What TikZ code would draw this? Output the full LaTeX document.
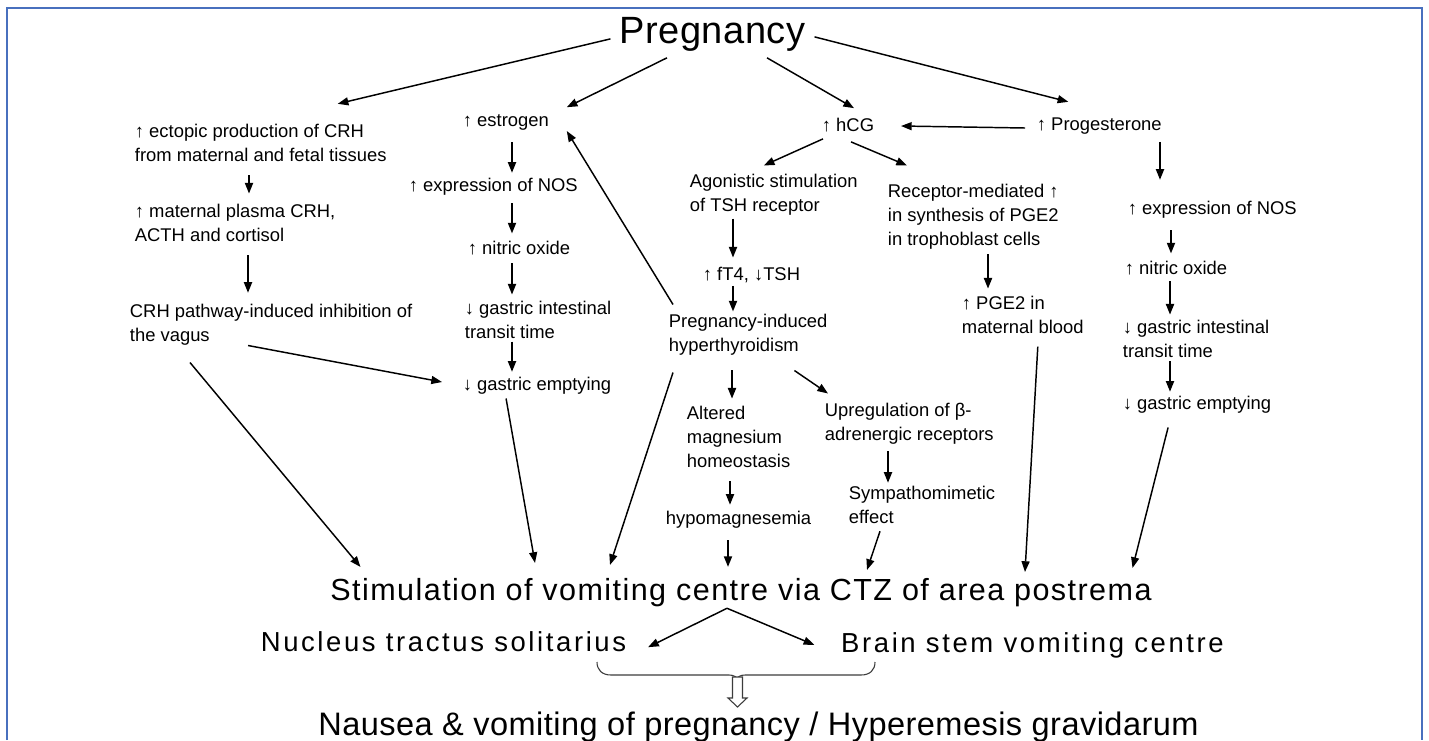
\documentclass[tikz,border=0pt]{standalone}
\usepackage{fontspec}
\setmainfont{Liberation Sans}
\usetikzlibrary{arrows.meta, calc}
\definecolor{framebl}{RGB}{72,112,190}
\definecolor{bracegr}{RGB}{60,60,60}

\begin{document}
\begin{tikzpicture}[x=0.75pt, y=-0.75pt,
  txt/.style={anchor=west, align=left, inner sep=2pt,
    font={\fontsize{13.8}{18}\selectfont}},
  title/.style={anchor=base, inner sep=2pt,
    font={\fontsize{28.5}{33}\selectfont\addfontfeature{LetterSpace=1.5}}},
  centre/.style={anchor=base, inner sep=2pt,
    font={\fontsize{22.9}{27}\selectfont\addfontfeature{LetterSpace=4.7}}},
  site/.style={anchor=base, inner sep=2pt,
    font={\fontsize{20.6}{25}\selectfont\addfontfeature{LetterSpace=9.5}}},
  outcome/.style={anchor=base, inner sep=2pt,
    font={\fontsize{24.4}{29}\selectfont\addfontfeature{LetterSpace=1.4}}},
  arr/.style={-{Triangle[length=8pt, width=6pt]}, line width=1.1pt},
  vert/.style={arr, line width=1.4pt},
  frame/.style={draw=framebl, line width=1.2pt},
  brace/.style={draw=bracegr, line width=0.8pt},
  hollow/.style={draw=bracegr, fill=white, line width=0.8pt}]
  \useasboundingbox (0,0) rectangle (1429,740);
  \fill[white] (0,0) rectangle (1429,740);
  % Frame
  \draw[frame] (7,740) -- (7,8) -- (1422,8) -- (1422,740);

  % Top
  \node[title] (preg) at (712.5,43) {Pregnancy};

  % CRH column
  \node[txt] (ectopic) at (132,142.5) {↑ ectopic production of CRH\\from maternal and fetal tissues};
  \node[txt] (plasma) at (132,223) {↑ maternal plasma CRH,\\ACTH and cortisol};
  \node[txt] (crhpath) at (127,325) {CRH pathway-induced inhibition of\\the vagus};

  % Estrogen column
  \node[txt] (estrogen) at (460,122) {↑ estrogen};
  \node[txt] (nosL) at (406,187) {↑ expression of NOS};
  \node[txt] (noL) at (465,248) {↑ nitric oxide};
  \node[txt] (gitL) at (462,320) {↓ gastric intestinal\\transit time};
  \node[txt] (geL) at (460,386) {↓ gastric emptying};

  % hCG column
  \node[txt] (hcg) at (819,125) {↑ hCG};
  \node[txt] (agon) at (687,195) {Agonistic stimulation\\of TSH receptor};
  \node[txt] (ft4) at (700,275) {↑ fT4, ↓TSH};
  \node[txt] (hyper) at (666,335) {Pregnancy-induced\\hyperthyroidism};
  \node[txt] (altered) at (684,437) {Altered\\magnesium\\homeostasis};
  \node[txt] (hypomag) at (663,520) {hypomagnesemia};
  \node[txt] (upreg) at (822,424) {Upregulation of β-\\adrenergic receptors};
  \node[txt] (symp) at (846,504.5) {Sympathomimetic\\effect};
  \node[txt] (recep) at (885,217) {Receptor-mediated ↑\\in synthesis of PGE2\\in trophoblast cells};
  \node[txt] (pge2) at (959,315) {↑ PGE2 in\\maternal blood};

  % Progesterone column
  \node[txt] (prog) at (1034,126) {↑ Progesterone};
  \node[txt] (nosR) at (1125,210) {↑ expression of NOS};
  \node[txt] (noR) at (1122,268) {↑ nitric oxide};
  \node[txt] (gitR) at (1120,339) {↓ gastric intestinal\\transit time};
  \node[txt] (geR) at (1120,405) {↓ gastric emptying};

  % Bottom
  \node[centre] (stim) at (741,600) {Stimulation of vomiting centre via CTZ of area postrema};
  \node[site] (nucleus) at (443.5,651) {Nucleus tractus solitarius};
  \node[site] (brain) at (1032.5,652) {Brain stem vomiting centre};
  \node[outcome] (nausea) at (758.5,735) {Nausea \& vomiting of pregnancy / Hyperemesis gravidarum};

  % Straight down arrows
  \foreach \a/\b/\x/\s/\e in {ectopic/plasma/249/8.3/5.8, plasma/crhpath/248/8/6.5,
      estrogen/nosL/512/7.2/2, nosL/noL/512/3.5/3.5, noL/gitL/512/4.2/2.8, gitL/geL/512/0/2,
      prog/nosR/1160/3.5/14, nosR/noR/1171/6.5/3.5, noR/gitR/1170/2.7/2, gitR/geR/1170/0.4/1.3,
      agon/ft4/733/0/5, ft4/hyper/733/0/0, hyper/altered/732/8.7/3.5, altered/hypomag/730/8/2.8,
      hypomag/stim/728/6.5/6, upreg/symp/888/2.7/0, recep/pge2/988/1.2/3.5}
    \draw[vert, shorten <=\s pt, shorten >=\e pt] (\x,0 |- \a.south) -- (\x,0 |- \b.north);

  % From Pregnancy
  \draw[arr] ($(preg.west)+(-6,5)$) -- ($(ectopic.north)+(77,-17)$);
  \draw[arr] ($(preg.south)+(-45.5,4)$) -- ($(estrogen.north east)+(15,-4)$);
  \draw[arr] ($(preg.south)+(54.5,4)$) -- ($(hcg.north)+(6,-7)$);
  \draw[arr] ($(preg.east)+(6,3)$) -- ($(prog.north)+(-31,-13)$);
  \draw[arr] ($(prog.west)+(-9,2)$) -- ($(hcg.east)+(24,1)$);

  % hCG branches
  \draw[arr] ($(hcg.south west)+(4,4)$) -- ($(agon.north)+(-10,-6)$);
  \draw[arr] ($(hcg.south)+(3,7)$) -- ($(recep.north west)+(22,-16)$);
  \draw[arr] ($(hyper.north west)+(7,-7)$) -- ($(estrogen.east)+(15,9)$);
  \draw[arr] ($(hyper.south east)+(-36,12)$) -- ($(upreg.north west)+(6,-7)$);
  \draw[arr] ($(crhpath.south)+(-23,-3)$) -- ($(geL.west)+(-18,-4)$);

  % Into the vomiting centre
  \draw[arr] ($(crhpath.south west)+(63,14)$) -- ($(stim.north west)+(33,-8)$);
  \draw[arr] ($(geL.south)+(-31,1)$) -- ($(stim.north)+(-206,-12)$);
  \draw[arr] ($(hyper.south west)+(7,14)$) -- ($(stim.north)+(-131,-10)$);
  \draw[arr] ($(symp.south west)+(34,5)$) -- ($(stim.north)+(126,-5)$);
  \draw[arr] ($(pge2.south)+(15,10)$) -- ($(stim.north)+(284,-3)$);
  \draw[arr] ($(geR.south)+(-29,11)$) -- ($(stim.north east)+(-22,-7)$);

  % Split below
  \draw[arr] ($(stim.south)+(-14,-1)$) -- ($(nucleus.east)+(19,6)$);
  \draw[arr] ($(stim.south)+(-14,-1)$) -- ($(brain.west)+(-24,0)$);

  % Brace and hollow arrow
  \coordinate (braceL) at (597,662);
  \coordinate (braceR) at (875,662);
  \draw[brace] (braceL) .. controls (597,670) and (602,675) .. (611,675) -- (729,675)
    .. controls (734,675) and (737,677) .. (737,680)
    .. controls (737,677) and (740,675) .. (745,675) -- (861,675)
    .. controls (870,675) and (875,670) .. (braceR);
  \coordinate (hollowtop) at (737.5,677);
  \draw[hollow] (hollowtop) ++(-5,0) -- ++(10,0) -- ++(0,21) -- ++(4.5,0)
    -- ++(-9.5,9) -- ++(-9.5,-9) -- ++(4.5,0) -- cycle;
\end{tikzpicture}
\end{document}
